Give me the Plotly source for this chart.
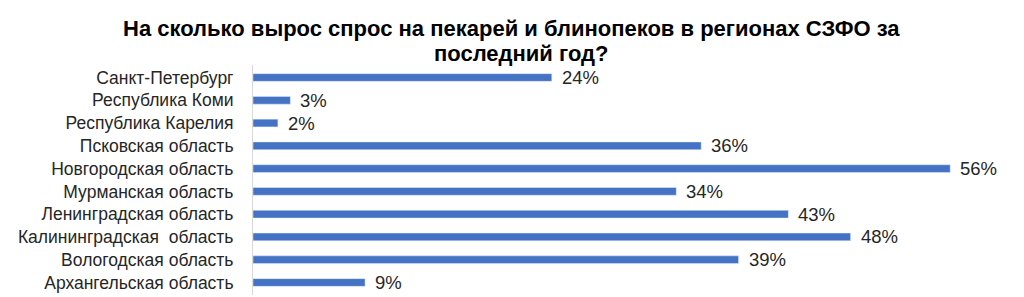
import plotly.graph_objects as go

categories = ["Санкт-Петербург", "Республика Коми", "Республика Карелия", "Псковская область",
              "Новгородская область", "Мурманская область", "Ленинградская область",
              "Калининградская  область", "Вологодская область", "Архангельская область"]
values = [24, 3, 2, 36, 56, 34, 43, 48, 39, 9]
labels = [f"{v}%" for v in values]
title_lines = ["На сколько вырос спрос на пекарей и блинопеков в регионах СЗФО за",
               "последний год?"]

fig = go.Figure()
fig.add_trace(go.Bar(
    x=values, y=categories, orientation="h",
    marker=dict(color="#4472C4"),
    width=0.34,
    hoverinfo="skip",
))
for c, v, t in zip(categories, values, labels):
    fig.add_annotation(x=v, y=c, text=t, showarrow=False, xanchor="left", xshift=8,
                       font=dict(family="Liberation Sans, Arial", size=18.5, color="#262626"))

for txt, xp, yp in zip(title_lines, [0.3467, 0.3588], [1.158, 1.052]):
    fig.add_annotation(xref="paper", yref="paper", x=xp, y=yp, xanchor="center", yanchor="middle",
                       text=f"<b>{txt}</b>", showarrow=False, borderpad=0,
                       font=dict(family="Liberation Sans, Arial", size=22, color="#000000"))

fig.update_layout(
    width=1024, height=297,
    margin=dict(l=253, r=24, t=65, b=2),
    paper_bgcolor="white", plot_bgcolor="white",
    showlegend=False,
    bargap=0.66,
)
fig.update_xaxes(range=[0, 60], visible=False)
fig.update_yaxes(autorange="reversed", showline=True, linecolor="#D9D9D9", linewidth=1,
                 ticks="", ticklabelstandoff=15, showgrid=False,
                 tickfont=dict(family="Liberation Sans, Arial", size=17.5, color="#262626"))

fig.write_html("out.html")
